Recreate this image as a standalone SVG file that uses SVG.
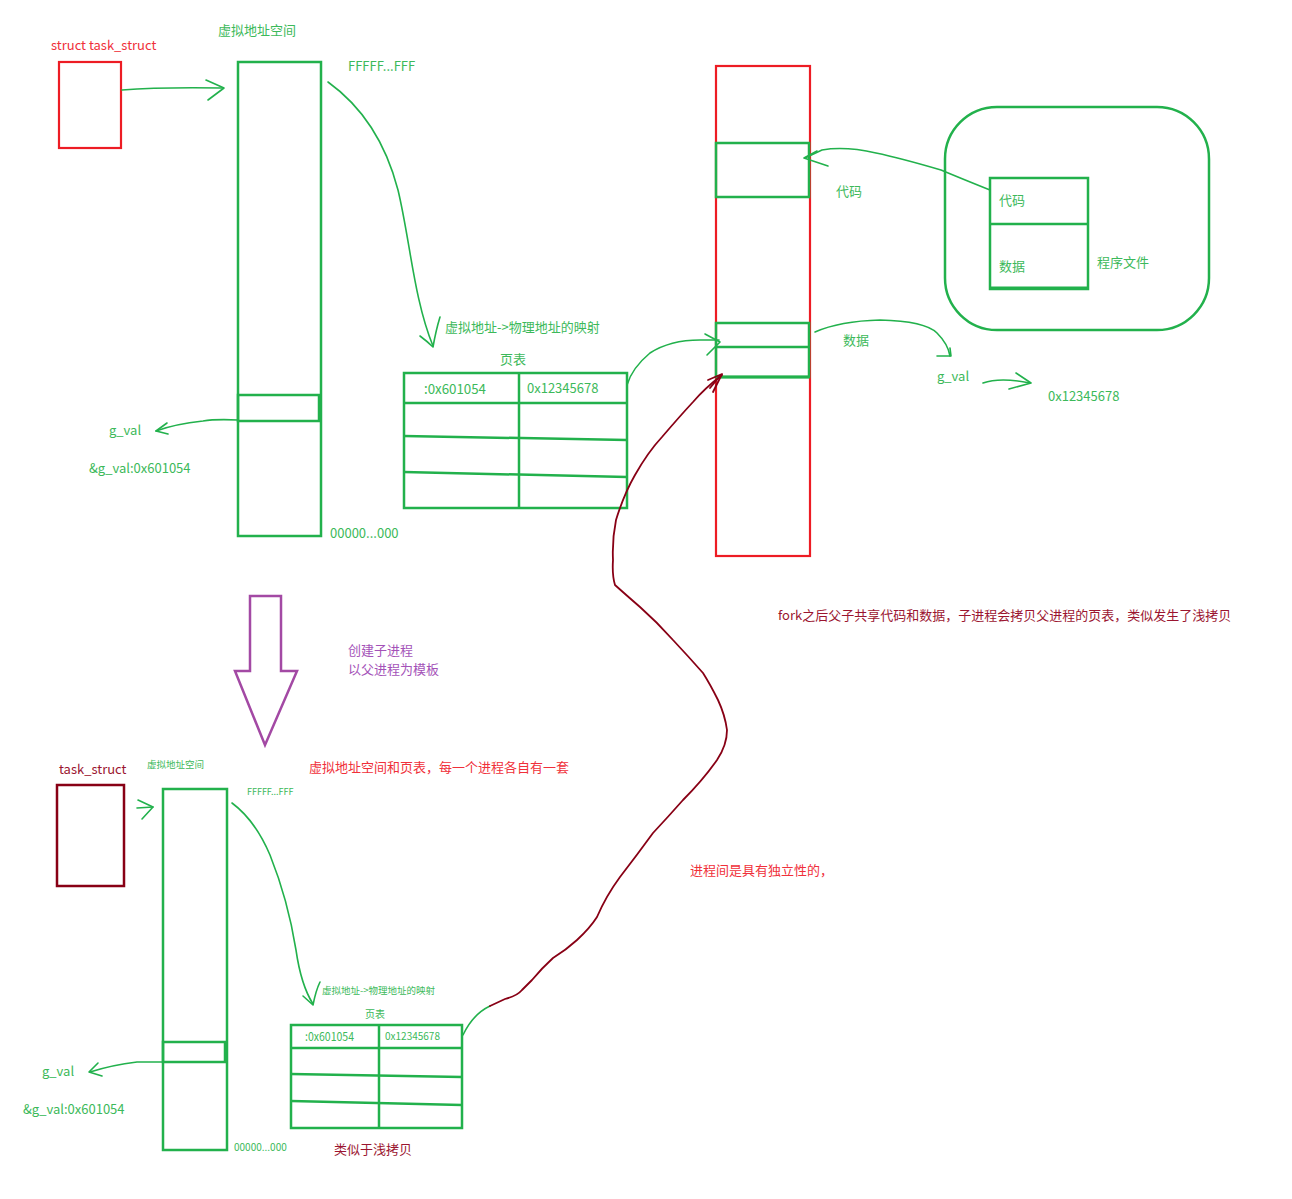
<svg xmlns="http://www.w3.org/2000/svg" width="1292" height="1199" viewBox="0 0 1292 1199">
<style>
text{font-family:"Noto Sans CJK SC","Noto Sans",sans-serif;font-size:13px}
.g{fill:none;stroke:#22b14c;stroke-width:2.5}
.gl{fill:none;stroke:#22b14c;stroke-width:1.6;stroke-linecap:round;stroke-linejoin:round}
.r{fill:none;stroke:#ed1c24;stroke-width:2.2}
.dr{fill:none;stroke:#880015;stroke-width:2.5}
.drl{fill:none;stroke:#880015;stroke-width:1.8;stroke-linecap:round;stroke-linejoin:round}
.p{fill:none;stroke:#a349a4;stroke-width:2.5;stroke-linejoin:miter}
.tg{fill:#3cb95a}
.tr{fill:#f0303a}
.tdr{fill:#9b1530}
.tp{fill:#a452b8}
.s{font-size:10px}
</style>
<rect width="1292" height="1199" fill="#ffffff"/>

<!-- ===== top: parent process ===== -->
<g id="task_struct_parent">
<rect class="r" x="59" y="62" width="62" height="86"/>
<text class="tr" x="51" y="50">struct task_struct</text>
</g>
<g id="vas_parent">
<text class="tg" x="218" y="35">虚拟地址空间</text>
<rect class="g" x="238" y="62" width="83" height="474"/>
<rect class="g" x="238" y="395" width="81" height="26"/>
<text class="tg" x="348" y="71">FFFFF...FFF</text>
<text class="tg" x="330" y="538">00000...000</text>
</g>
<g id="gval_parent">
<text class="tg" x="109" y="435">g_val</text>
<text class="tg" x="89" y="473">&amp;g_val:0x601054</text>
</g>
<g id="pagetable_parent">
<text class="tg" x="500" y="364">页表</text>
<rect class="g" x="404" y="373" width="223" height="135"/>
<line class="g" x1="519" y1="373" x2="519" y2="508"/>
<line class="g" x1="404" y1="403" x2="627" y2="403"/>
<line class="g" x1="404" y1="436" x2="627" y2="440"/>
<line class="g" x1="404" y1="472" x2="627" y2="477"/>
<text class="tg" x="424" y="394" style="font-size:14px" textLength="62" lengthAdjust="spacingAndGlyphs">:0x601054</text>
<text class="tg" x="527" y="393">0x12345678</text>
</g>
<g id="mapping_label_parent">
<text class="tg" x="445" y="332">虚拟地址->物理地址的映射</text>
</g>

<!-- ===== physical memory ===== -->
<g id="physical_memory">
<rect class="r" x="716" y="66" width="94" height="490"/>
<rect class="g" x="716" y="143" width="93" height="54"/>
<rect class="g" x="716" y="323" width="93" height="54"/>
<line class="g" x1="716" y1="347" x2="809" y2="347"/>
<line class="g" x1="716" y1="377" x2="809" y2="377" style="stroke-width:3"/>
<text class="tg" x="836" y="196">代码</text>
<text class="tg" x="843" y="345">数据</text>
</g>
<g id="program_file">
<rect class="g" x="945" y="107" width="264" height="223" rx="52"/>
<rect class="g" x="990" y="178" width="98" height="111"/>
<line class="g" x1="990" y1="224" x2="1088" y2="224"/>
<line class="g" x1="990" y1="288" x2="1088" y2="288" style="stroke-width:3"/>
<text class="tg" x="999" y="205">代码</text>
<text class="tg" x="999" y="271">数据</text>
<text class="tg" x="1097" y="267">程序文件</text>
</g>
<g id="gval_phys">
<text class="tg" x="937" y="381">g_val</text>
<text class="tg" x="1048" y="401">0x12345678</text>
</g>

<!-- ===== notes ===== -->
<g id="notes">
<text class="tdr" x="778" y="620">fork之后父子共享代码和数据，子进程会拷贝父进程的页表，类似发生了浅拷贝</text>
<text class="tp" x="348" y="655">创建子进程</text>
<text class="tp" x="348" y="674">以父进程为模板</text>
<text class="tr" x="309" y="772">虚拟地址空间和页表，每一个进程各自有一套</text>
<text class="tr" x="690" y="875">进程间是具有独立性的，</text>
<text class="tdr" x="334" y="1154">类似于浅拷贝</text>
</g>

<!-- ===== fork arrow ===== -->
<g id="fork_arrow">
<path class="p" d="M250,596 L281,596 L281,671 L297,671 L265,745 L235,671 L250,671 Z"/>
</g>

<!-- ===== bottom: child process ===== -->
<g id="task_struct_child">
<rect class="dr" x="57" y="785" width="67" height="101"/>
<text class="tdr" x="59" y="774">task_struct</text>
</g>
<g id="vas_child">
<text class="tg s" x="147" y="768" style="font-size:9.5px">虚拟地址空间</text>
<rect class="g" x="163" y="789" width="64" height="361"/>
<rect class="g" x="163" y="1042" width="62" height="20"/>
<text class="tg s" x="247" y="795" style="font-size:9px">FFFFF...FFF</text>
<text class="tg s" x="234" y="1151">00000...000</text>
</g>
<g id="gval_child">
<text class="tg" x="42" y="1076">g_val</text>
<text class="tg" x="23" y="1114">&amp;g_val:0x601054</text>
</g>
<g id="pagetable_child">
<text class="tg s" x="365" y="1018">页表</text>
<rect class="g" x="291" y="1025" width="171" height="103"/>
<line class="g" x1="379" y1="1025" x2="379" y2="1128"/>
<line class="g" x1="291" y1="1048" x2="462" y2="1048"/>
<line class="g" x1="291" y1="1074" x2="462" y2="1077"/>
<line class="g" x1="291" y1="1101" x2="462" y2="1105"/>
<text class="tg" x="305" y="1041" style="font-size:12px" textLength="49" lengthAdjust="spacingAndGlyphs">:0x601054</text>
<text class="tg s" x="385" y="1040">0x12345678</text>
</g>
<g id="mapping_label_child">
<text class="tg s" x="322" y="994" style="font-size:9.5px">虚拟地址->物理地址的映射</text>
</g>

<!-- ===== connectors ===== -->
<g id="connectors">
<!-- task_struct -> vas (parent) -->
<path class="gl" d="M122,90 Q160,87 222,88"/>
<path class="gl" d="M206,80 L224,88 L208,100"/>
<!-- vas top -> page table (parent) -->
<path class="gl" d="M328,82 C360,105 385,140 398,190 C410,240 414,300 433,346"/>
<path class="gl" d="M420,336 Q428,342 433,347 Q436,330 440,317"/>
<!-- g_val (parent) -->
<path class="gl" d="M238,420 Q215,419 203,421 Q175,424 156,431"/>
<path class="gl" d="M167,423 L156,431 L168,434"/>
<!-- page table -> phys data (parent) -->
<path class="gl" d="M627,385 Q632,368 650,353 Q670,340 700,340 L719,340"/>
<path class="gl" d="M705,334 L720,342 L707,355"/>
<!-- program file code -> phys code -->
<path class="gl" d="M990,190 Q960,178 941,170 Q900,158 876,153 Q845,146 822,150 L805,158"/>
<path class="gl" d="M817,151 L804,158 L828,166"/>
<!-- phys data -> g_val -->
<path class="gl" d="M815,332 Q840,321 880,320 Q925,321 937,333 Q948,344 950,356"/>
<path class="gl" d="M937,356 L951,356 L950,348"/>
<!-- g_val -> 0x12345678 -->
<path class="gl" d="M983,383 Q1000,377 1030,383"/>
<path class="gl" d="M1016,373 L1031,383 L1009,389"/>
<!-- task_struct -> vas (child) -->
<path class="gl" d="M137,808 L153,807"/>
<path class="gl" d="M138,800 L153,807 L142,819"/>
<!-- vas top -> page table (child) -->
<path class="gl" d="M232,803 Q255,820 270,855 Q288,900 296,950 Q301,985 313,1004"/>
<path class="gl" d="M303,996 L313,1005 Q316,990 320,982"/>
<!-- g_val (child) -->
<path class="gl" d="M163,1062 L137,1062 Q112,1065 90,1072"/>
<path class="gl" d="M98,1063 L89,1072 L102,1076"/>
<!-- child page table -> phys data (dark red) -->
<path class="gl" d="M463,1035 Q473,1014 490,1006"/>
<path class="drl" d="M490,1006 L505,999 Q517,996 522,990 L532,980 Q542,968 553,958 Q566,950 577,940 Q590,928 597,917 Q606,896 620,877 Q637,855 653,833 Q668,817 683,800 Q703,780 717,760 Q727,745 727,730 Q725,715 718,700 Q710,684 703,673 Q688,656 673,640 Q657,622 640,607 Q625,594 615,585 Q612,575 613,560 Q612,540 616,520 Q624,494 635,475 Q648,452 662,437 Q680,416 693,402 Q705,388 722,375"/>
<path class="drl" d="M708,380 L722,374 L713,392"/>
<path class="drl" d="M710,388 L720,376"/>
</g>
</svg>
